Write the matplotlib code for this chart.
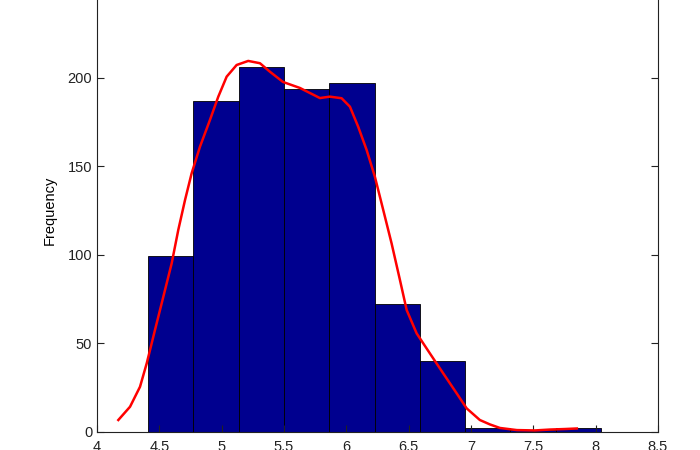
import matplotlib
matplotlib.use('Agg')
import matplotlib.pyplot as plt

# histogram bins (10 bins, MATLAB hist style)
bin_centers = [4.591, 4.954, 5.318, 5.681, 6.045, 6.408, 6.772, 7.135, 7.498, 7.862]
bin_width = 0.3634
counts = [99, 187, 206, 194, 197, 72, 40, 2, 1, 2]

# fitted density curve, scaled to counts
curve_x = [4.171, 4.265, 4.345, 4.399, 4.465, 4.532, 4.599, 4.652, 4.706, 4.759,
           4.826, 4.906, 4.973, 5.040, 5.120, 5.213, 5.307, 5.387, 5.492, 5.628,
           5.788, 5.868, 5.962, 6.029, 6.095, 6.163, 6.229, 6.296, 6.363, 6.430,
           6.484, 6.564, 6.670, 6.777, 6.885, 6.965, 7.071, 7.152, 7.232, 7.368,
           7.512, 7.633, 7.753, 7.849]
curve_y = [6.5, 14.0, 25.3, 38.6, 57.4, 76.2, 95.1, 114.0, 130.9, 146.0,
           161.1, 176.2, 189.4, 200.7, 207.3, 209.6, 208.3, 203.5, 197.7, 194.3,
           188.6, 189.4, 188.5, 183.7, 172.4, 159.2, 144.1, 125.3, 106.4, 85.7,
           68.7, 55.5, 44.2, 32.9, 21.6, 13.1, 6.5, 4.0, 2.0, 0.8,
           0.6, 1.1, 1.4, 1.7]

xticks = [4, 4.5, 5, 5.5, 6, 6.5, 7, 7.5, 8, 8.5]
xtick_labels = ['4', '4.5', '5', '5.5', '6', '6.5', '7', '7.5', '8', '8.5']
yticks = [0, 50, 100, 150, 200, 250]

plt.rcParams['font.family'] = ['Liberation Sans', 'DejaVu Sans']

fig = plt.figure(figsize=(7, 4.5), dpi=100)
ax = fig.add_axes([97 / 700, 18.5 / 450, 561 / 700, 442 / 450])

ax.bar(bin_centers, counts, width=bin_width, color='#00008f',
       edgecolor='black', linewidth=0.6)
ax.plot(curve_x, curve_y, color='red', linewidth=1.8, solid_joinstyle='round')

ax.set_xlim(4, 8.5)
ax.set_ylim(0, 250)
ax.set_xticks(xticks)
ax.set_xticklabels(xtick_labels)
ax.set_yticks(yticks)
ax.tick_params(direction='in', length=5, width=0.8, labelsize=10.5,
               top=True, right=True, colors='#222222')
ax.tick_params(axis='x', pad=6)
for s in ax.spines.values():
    s.set_linewidth(0.8)
    s.set_color('#222222')
ax.set_ylabel('Frequency', fontsize=10.5, labelpad=8)

fig.savefig('out.png', dpi=100)
